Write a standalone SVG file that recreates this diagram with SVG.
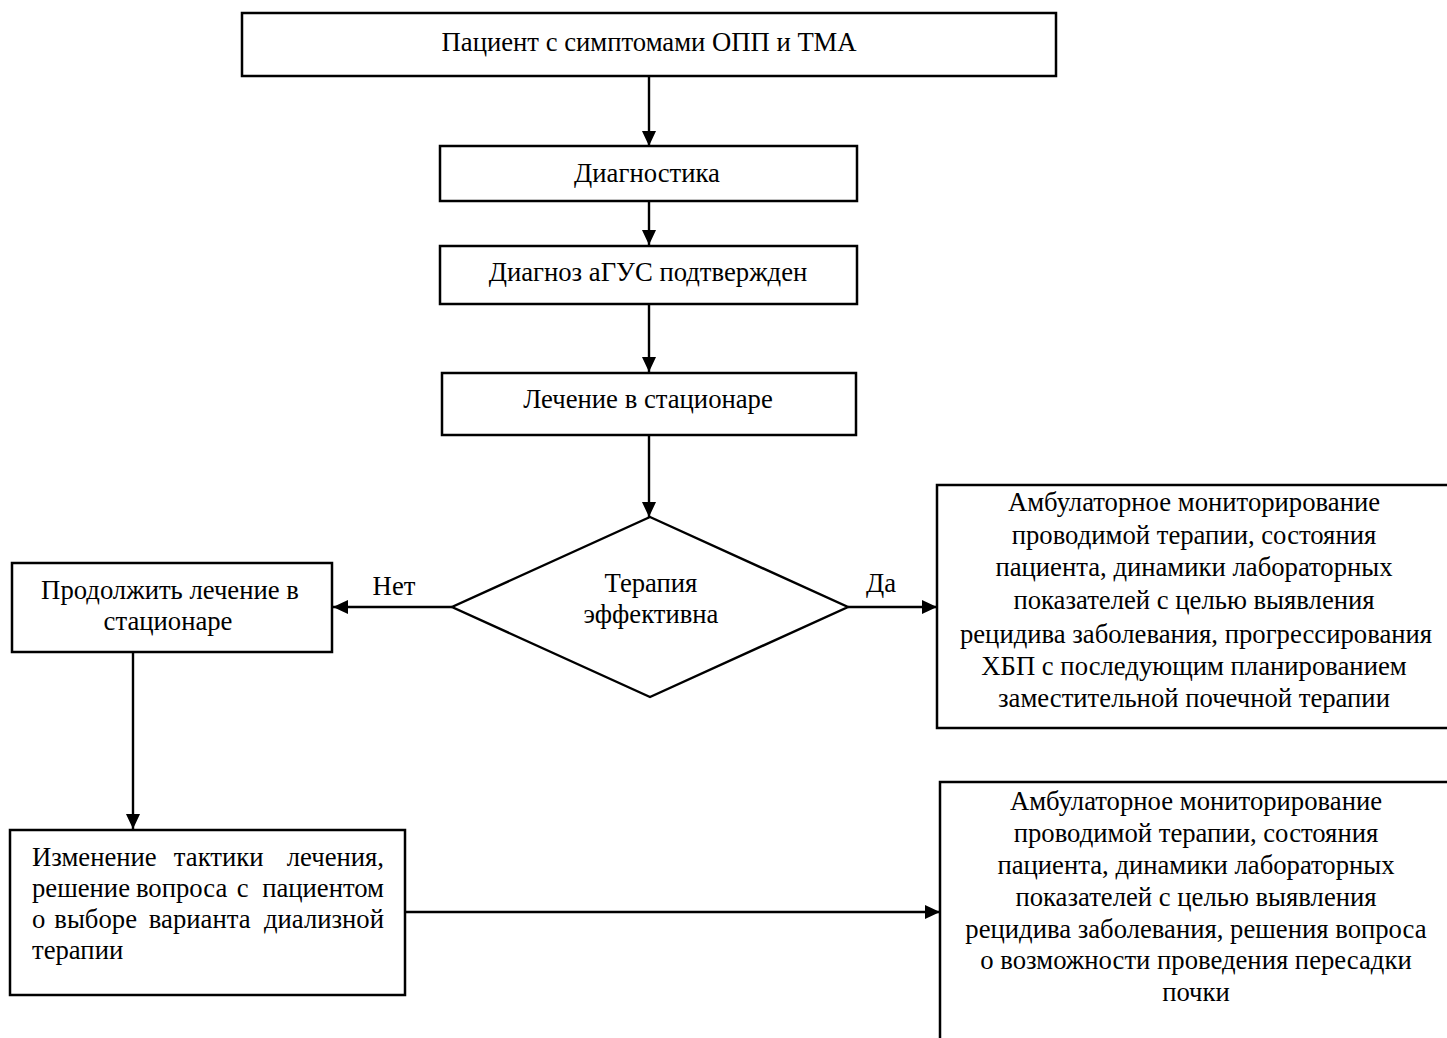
<svg xmlns="http://www.w3.org/2000/svg" width="1447" height="1038" viewBox="0 0 1447 1038">
<defs>
<style>
.box{fill:#fff;stroke:#000;stroke-width:2.5}
.ln{fill:none;stroke:#000;stroke-width:2.4}
text{font-family:"Liberation Serif","Times New Roman",serif;font-size:26.7px;fill:#000}
.c{text-anchor:middle}
.e{text-anchor:end}
.m{text-anchor:middle}
</style>
<marker id="ah" viewBox="0 0 15 14" refX="15" refY="7" markerWidth="15" markerHeight="14" markerUnits="userSpaceOnUse" orient="auto">
<path d="M0,0 L15,7 L0,14 Z" fill="#000"/>
</marker>
</defs>
<rect width="1447" height="1038" fill="#fff"/>
<g id="connectors">
<line class="ln" x1="649" y1="76" x2="649" y2="146" marker-end="url(#ah)"/>
<line class="ln" x1="649" y1="201" x2="649" y2="245" marker-end="url(#ah)"/>
<line class="ln" x1="649" y1="304" x2="649" y2="372" marker-end="url(#ah)"/>
<line class="ln" x1="649" y1="435" x2="649" y2="517" marker-end="url(#ah)"/>
<line class="ln" x1="452" y1="607" x2="333" y2="607" marker-end="url(#ah)"/>
<line class="ln" x1="848" y1="607" x2="937" y2="607" marker-end="url(#ah)"/>
<line class="ln" x1="133" y1="652" x2="133" y2="829" marker-end="url(#ah)"/>
<line class="ln" x1="405" y1="912" x2="940" y2="912" marker-end="url(#ah)"/>
<text x="394" y="595" class="c">Нет</text>
<text x="881" y="592" class="c">Да</text>
</g>
<g id="n-patient">
<rect class="box" x="242" y="13" width="814" height="63"/>
<text x="649" y="51" class="c">Пациент с симптомами ОПП и ТМА</text>
</g>
<g id="n-diag">
<rect class="box" x="440" y="146" width="417" height="55"/>
<text x="647" y="182" class="c">Диагностика</text>
</g>
<g id="n-confirmed">
<rect class="box" x="440" y="246" width="417" height="58"/>
<text x="648" y="281" class="c">Диагноз аГУС подтвержден</text>
</g>
<g id="n-hospital">
<rect class="box" x="442" y="373" width="414" height="62"/>
<text x="648" y="408" class="c">Лечение в стационаре</text>
</g>
<g id="n-decision">
<polygon class="ln" points="650,517 848,607 650,697 452,607" fill="#fff"/>
<text x="651" y="592" class="c">Терапия</text>
<text x="651" y="623" class="c">эффективна</text>
</g>
<g id="n-continue">
<rect class="box" x="12" y="563" width="320" height="89"/>
<text x="170" y="599" class="c">Продолжить лечение в</text>
<text x="168" y="630" class="c">стационаре</text>
</g>
<g id="n-amb1">
<rect class="box" x="937" y="485" width="530" height="243"/>
<text class="c" x="1194" y="511">Амбулаторное мониторирование</text>
<text class="c" x="1194" y="543.5">проводимой терапии, состояния</text>
<text class="c" x="1194" y="576">пациента, динамики лабораторных</text>
<text class="c" x="1194" y="608.5">показателей с целью выявления</text>
<text class="c" x="1196" y="643">рецидива заболевания, прогрессирования</text>
<text class="c" x="1194" y="675">ХБП с последующим планированием</text>
<text class="c" x="1194" y="707">заместительной почечной терапии</text>
</g>
<g id="n-change">
<rect class="box" x="10" y="830" width="395" height="165"/>
<text y="866"><tspan x="32">Изменение</tspan> <tspan x="222" class="m">тактики</tspan> <tspan x="384" class="e">лечения,</tspan></text>
<text y="897"><tspan x="32">решение</tspan> <tspan x="185" class="m">вопроса</tspan> <tspan x="246" class="m">с</tspan> <tspan x="384" class="e">пациентом</tspan></text>
<text y="928"><tspan x="32">о</tspan> <tspan x="99" class="m">выборе</tspan> <tspan x="203" class="m">варианта</tspan> <tspan x="384" class="e">диализной</tspan></text>
<text x="32" y="959">терапии</text>
</g>
<g id="n-amb2">
<rect class="box" x="940" y="782" width="530" height="280"/>
<text class="c" x="1196" y="810">Амбулаторное мониторирование</text>
<text class="c" x="1196" y="842">проводимой терапии, состояния</text>
<text class="c" x="1196" y="874">пациента, динамики лабораторных</text>
<text class="c" x="1196" y="906">показателей с целью выявления</text>
<text class="c" x="1196" y="938">рецидива заболевания, решения вопроса</text>
<text class="c" x="1196" y="969">о возможности проведения пересадки</text>
<text class="c" x="1196" y="1001">почки</text>
</g>
</svg>
